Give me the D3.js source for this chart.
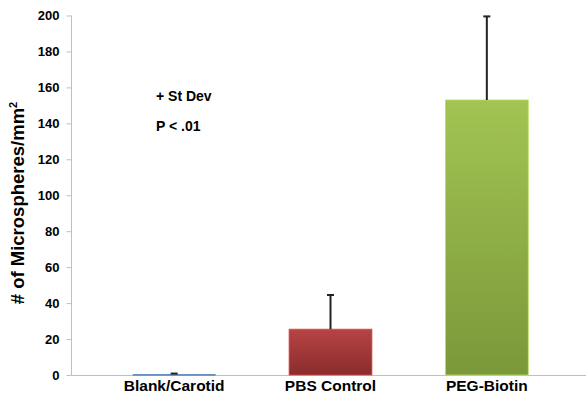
<!DOCTYPE html>
<html><head><meta charset="utf-8">
<script src="https://cdn.jsdelivr.net/npm/d3@7"></script>
<style>body{margin:0;background:#fff;}svg{display:block;font-family:"Liberation Sans",Arial,sans-serif;}</style>
</head><body>
<svg id="c" width="586" height="393"></svg>
<script>
const categories = ["Blank/Carotid", "PBS Control", "PEG-Biotin"];
const means = [0.5, 25.5, 153];
const stdevs = [0.3, 19, 46.5];
const yTicks = [0, 20, 40, 60, 80, 100, 120, 140, 160, 180, 200];
const colorsTop = ["#5b86c0", "#b84343", "#a2c452"];
const colorsBottom = ["#4f7ab5", "#8a2c2c", "#7b983a"];

const svg = d3.select("#c");
const axisX = 71.5, axisY = 375.5;
const y = d3.scaleLinear().domain([0, 200]).range([375, 15.5]);
const x = d3.scaleBand().domain(categories).range([96, 565]).paddingInner(0.47).paddingOuter(0.235);

const defs = svg.append("defs");
categories.forEach((c, i) => {
  const g = defs.append("linearGradient").attr("id", "g" + i).attr("x1", 0).attr("y1", 0).attr("x2", 0).attr("y2", 1);
  g.append("stop").attr("offset", "0%").attr("stop-color", colorsTop[i]);
  g.append("stop").attr("offset", "100%").attr("stop-color", colorsBottom[i]);
});

// axes
svg.append("line").attr("x1", axisX).attr("x2", axisX).attr("y1", y(200)).attr("y2", axisY).attr("stroke", "#bfbfbf").attr("stroke-width", 1);
svg.append("line").attr("x1", axisX).attr("x2", 586).attr("y1", axisY).attr("y2", axisY).attr("stroke", "#bfbfbf").attr("stroke-width", 1);

const yAxis = d3.axisLeft(y).tickValues(yTicks).tickSize(5).tickPadding(7);
const ga = svg.append("g").attr("transform", `translate(${axisX},0)`).call(yAxis);
ga.select(".domain").remove();
ga.selectAll(".tick line").attr("stroke", "#bfbfbf");
ga.selectAll(".tick text").attr("fill", "#000").style("font-size", "13px").style("font-weight", "bold").style("font-family", '"Liberation Sans",Arial,sans-serif');

// bars
svg.selectAll("rect.bar").data(categories).join("rect").attr("class", "bar")
  .attr("x", d => x(d)).attr("width", x.bandwidth())
  .attr("y", (d, i) => y(means[i])).attr("height", (d, i) => Math.max(1.5, y(0) - y(means[i])))
  .attr("fill", (d, i) => `url(#g${i})`)
  .attr("stroke", (d, i) => i === 0 ? "none" : d3.color(colorsTop[i]).brighter(0.4))
  .attr("stroke-width", 0.8);

// error bars
categories.forEach((c, i) => {
  const cx = x(c) + x.bandwidth() / 2;
  svg.append("line").attr("x1", cx).attr("x2", cx).attr("y1", y(means[i])).attr("y2", y(means[i] + stdevs[i])).attr("stroke", "#222").attr("stroke-width", 2);
  svg.append("line").attr("x1", cx - 3.5).attr("x2", cx + 3.5).attr("y1", y(means[i] + stdevs[i])).attr("y2", y(means[i] + stdevs[i])).attr("stroke", "#222").attr("stroke-width", 2);
});

// category labels
svg.selectAll("text.cat").data(categories).join("text").attr("class", "cat")
  .attr("x", d => x(d) + x.bandwidth() / 2).attr("y", 390.5)
  .attr("text-anchor", "middle").style("font-size", "15.5px").style("font-weight", "bold").text(d => d);

// y label
const yl = svg.append("text").attr("transform", "translate(24,203) rotate(-90)").attr("text-anchor", "middle")
  .style("font-size", "18.5px").style("font-weight", "bold");
yl.append("tspan").text("# of Microspheres/mm");
yl.append("tspan").attr("dy", -7).style("font-size", "11px").text("2");

// annotations
svg.append("text").attr("x", 156).attr("y", 101).style("font-size", "14px").style("font-weight", "bold").text("+ St Dev");
svg.append("text").attr("x", 156).attr("y", 131).style("font-size", "14px").style("font-weight", "bold").text("P < .01");
</script>
</body></html>
